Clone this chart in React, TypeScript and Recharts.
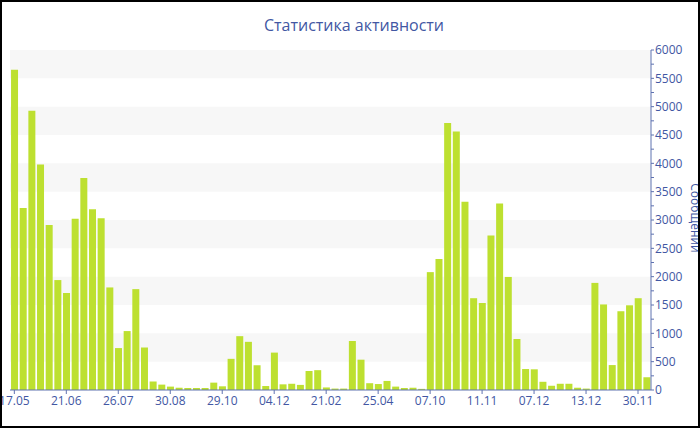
import React from 'react';
import { BarChart, Bar, XAxis, YAxis, ReferenceArea } from 'recharts';

const title = 'Статистика активности';
const yLabel = 'Сообщений';
const tickLabels = ['17.05', '21.06', '26.07', '30.08', '29.10', '04.12', '21.02', '25.04', '07.10', '11.11', '07.12', '13.12', '30.11'];
const messages = [
  5650, 3210, 4930, 3980, 2910, 1940, 1710, 3020, 3740, 3190,
  3030, 1810, 740, 1040, 1780, 750, 150, 95, 60, 40,
  35, 35, 35, 130, 65, 550, 950, 850, 435, 70,
  660, 100, 110, 90, 335, 350, 45, 25, 25, 865,
  535, 120, 105, 160, 60, 35, 40, 20, 2080, 2310,
  4710, 4560, 3320, 1620, 1535, 2725, 3290, 1995, 900, 370,
  365, 145, 75, 110, 110, 40, 25, 1890, 1510, 440,
  1390, 1495, 1620, 225,
];
const labelStep = 6;
const yTicks = Array.from({ length: 25 }, (_, k) => k * 250);
const shadedBands = [
  [500, 1000],
  [1500, 2000],
  [2500, 3000],
  [3500, 4000],
  [4500, 5000],
  [5500, 6000],
];

const data = messages.map((v, i) => ({ i, v }));
const xTicks = tickLabels.map((_, k) => k * labelStep);

const textColor = '#4257a3';
const axisColor = '#5f72b0';
const font = '"Open Sans", "Noto Sans", sans-serif';

const YLabel = (props: any) => {
  const vb = props.viewBox || {};
  const cx = vb.x + vb.width - 5;
  const cy = vb.y + vb.height / 2 - 2;
  return (
    <text
      x={cx}
      y={cy}
      transform={`rotate(90, ${cx}, ${cy})`}
      textAnchor="middle"
      dominantBaseline="central"
      fill={textColor}
      fontSize={12}
      fontFamily={font}
    >
      {yLabel}
    </text>
  );
};

export default function App() {
  return (
    <div style={{ position: 'absolute', left: 0, top: 0, width: 700, height: 430, background: '#fff', overflow: 'hidden' }}>
      <div
        style={{
          position: 'absolute',
          left: 0,
          top: 14,
          width: 708,
          textAlign: 'center',
          fontFamily: font,
          fontSize: 16,
          color: textColor,
          lineHeight: '22px',
        }}
      >
        {title}
      </div>
      <div style={{ position: 'absolute', left: 0, top: 0 }}>
        <BarChart
          width={700}
          height={430}
          data={data}
          margin={{ top: 50, right: 0, bottom: 10, left: 10 }}
          barCategoryGap="12%"
        >
          {shadedBands.map(([y1, y2]) => (
            <ReferenceArea
              key={y1}
              y1={y1}
              y2={y2}
              fill="#f7f7f7"
              fillOpacity={1}
              stroke="none"
              ifOverflow="hidden"
            />
          ))}
          <XAxis
            dataKey="i"
            ticks={xTicks}
            interval={0}
            tickFormatter={(v: number) => tickLabels[v / labelStep]}
            axisLine={{ stroke: axisColor }}
            tickLine={{ stroke: axisColor }}
            tickSize={4}
            tickMargin={2}
            height={30}
            tick={{ fill: textColor, fontSize: 12, fontFamily: font }}
          />
          <YAxis
            orientation="right"
            width={49}
            domain={[0, 6000]}
            ticks={yTicks}
            interval={0}
            tickFormatter={(v: number) => (v % 500 === 0 ? String(v) : '')}
            axisLine={{ stroke: axisColor }}
            tickLine={{ stroke: axisColor }}
            tickSize={3}
            tickMargin={1}
            tick={{ fill: textColor, fontSize: 12, fontFamily: font, textAnchor: 'start' }}
            label={<YLabel />}
          />
          <Bar dataKey="v" fill="#bde030" isAnimationActive={false} />
        </BarChart>
      </div>
      <div
        style={{
          position: 'absolute',
          left: 0,
          top: 0,
          width: 700,
          height: 428,
          boxSizing: 'border-box',
          border: '2px solid #000',
          pointerEvents: 'none',
        }}
      />
    </div>
  );
}
